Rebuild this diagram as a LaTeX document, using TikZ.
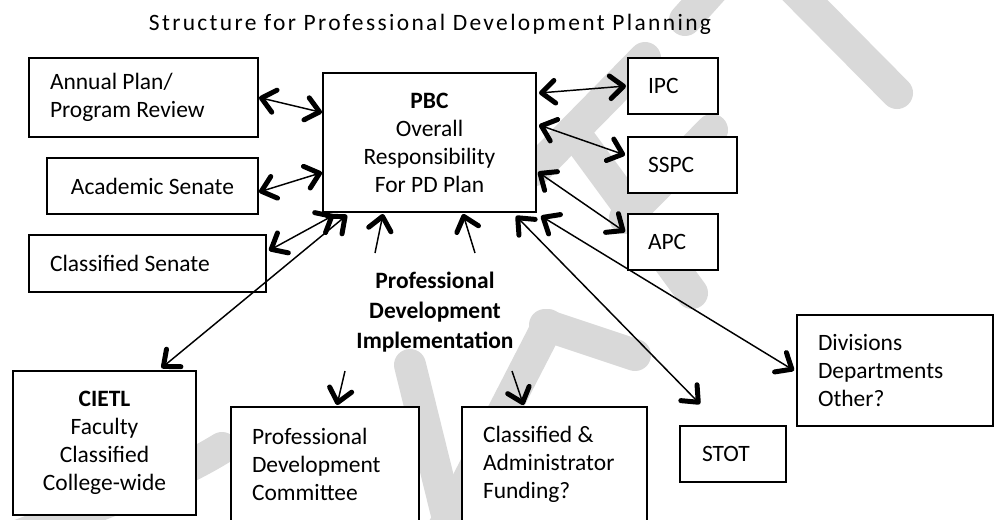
\documentclass[tikz,border=0pt]{standalone}
\usepackage{fontspec}
\setmainfont{Carlito}
\usetikzlibrary{arrows.meta,calc}
\definecolor{wm}{HTML}{D9D9D9}
\tikzset{
  boxfont/.style={font=\fontsize{17.6}{21}\selectfont},
  box/.style={draw, line width=1.5pt, fill=white, inner sep=0pt, boxfont},
  lbox/.style={box, align=flush left},
  cbox/.style={box, align=flush center},
  hd/.tip={Straight Barb[length=10pt,width=17pt,line width=0pt 3.4,round]},
  con/.style={line width=1.1pt},
  dbl/.style={con, {hd}-{hd}},
  one/.style={con, -{hd}},
  wmark/.style={draw=wm, line width=24pt, line cap=round},
}
\begin{document}
\begin{tikzpicture}[x=0.75pt,y=-0.75pt]
\clip (0,0) rectangle (994,519);
\fill[white] (0,0) rectangle (994,519);
% watermark
\draw[wmark] (790,-15) -- (897,93);
\draw[wmark] (730,-30) -- (685,20);
\draw[wmark] (645,58) -- (535,170);
\draw[wmark] (582,143) -- (692,293);
\draw[wmark] (712,130) -- (625,218);
\draw[wmark] (545,325) -- (635,355);
\draw[wmark] (548,325) -- (440,535);
\draw[wmark] (410,365) -- (452,535);
\draw[wmark] (20,535) .. controls (100,505) and (170,480) .. (222,448);

% title
\node[anchor=base, inner sep=0pt, font=\fontsize{17.6}{21}\selectfont\addfontfeature{LetterSpace=10}] (title) at (430,30) {Structure for Professional Development Planning};

% boxes
\node[lbox, minimum width=171.75pt, minimum height=59.25pt, text width=140.25pt] (annual) at (143.5,97.5) {Annual Plan/\\Program Review};
\node[cbox, minimum width=158.25pt, minimum height=42pt] (academic) at (152.5,186) {Academic Senate};
\node[lbox, minimum width=177.75pt, minimum height=42.75pt, text width=146.25pt] (classen) at (147.5,263.5) {Classified Senate};
\node[cbox, minimum width=159.75pt, minimum height=104.25pt] (pbc) at (429.5,142.5) {\textbf{PBC}\\Overall\\Responsibility\\For PD Plan};
\node[lbox, minimum width=67.5pt, minimum height=42pt, text width=37.5pt] (ipc) at (673,86) {IPC};
\node[lbox, minimum width=81.75pt, minimum height=42pt, text width=51.75pt] (sspc) at (682.5,165) {SSPC};
\node[lbox, minimum width=67.5pt, minimum height=42pt, text width=37.5pt] (apc) at (673,242) {APC};
\node[cbox, minimum width=137.25pt, minimum height=108pt] (cietl) at (104.5,443) {\textbf{CIETL}\\Faculty\\Classified\\College-wide};
\node[lbox, minimum width=141pt, minimum height=86.25pt, text width=109.5pt] (pdc) at (325,464.5) {Professional\\Development\\Committee};
\node[lbox, minimum width=138.75pt, minimum height=86.25pt, text width=107.25pt] (clsadm) at (554.5,464.5) {Classified \&\\Administrator\\Funding?};
\node[lbox, minimum width=79.5pt, minimum height=42pt, text width=46.5pt] (stot) at (733,454) {STOT};
\node[lbox, minimum width=147pt, minimum height=83.25pt, text width=115.5pt] (div) at (895,370.5) {Divisions\\Departments\\Other?};

\node[align=center, inner sep=0pt, font=\fontsize{17.6}{22.5}\selectfont\bfseries] (impl) at (435,312) {Professional\\Development\\Implementation};

% free ends
\coordinate (u1) at (375,253);
\coordinate (u2) at (475,253);
\coordinate (d1) at (345,371);
\coordinate (d2) at (512,371);

% connectors
\draw[dbl] (annual.east) -- ([shift={(0,-30)}]pbc.west);
\draw[dbl] ([shift={(0,6)}]academic.east) -- ([shift={(0,30)}]pbc.west);
\draw[dbl] ([shift={(2,-13)}]classen.east) -- ([shift={(12,2)}]pbc.south west);
\draw[dbl] ([shift={(57,-2)}]cietl.north) -- ([shift={(25,2)}]pbc.south west);
\draw[one] (u1) -- ([shift={(-46.5,1)}]pbc.south);
\draw[one] (u2) -- ([shift={(33.5,1)}]pbc.south);
\draw[one] (d1) -- ([shift={(12,-1)}]pdc.north);
\draw[one] (d2) -- ([shift={(-31,-1)}]clsadm.north);
\draw[dbl] ([shift={(2,-49.5)}]pbc.east) -- ([shift={(-1,0)}]ipc.west);
\draw[dbl] ([shift={(2,-17.5)}]pbc.east) -- ([shift={(-2,-10)}]sspc.west);
\draw[dbl] ([shift={(1,29.5)}]pbc.east) -- ([shift={(-2,-10)}]apc.west);
\draw[dbl] ([shift={(-21,3)}]pbc.south east) -- ([shift={(-33,-21)}]stot.north);
\draw[dbl] ([shift={(4,3)}]pbc.south east) -- ([shift={(-2,0)}]div.west);
\end{tikzpicture}
\end{document}
